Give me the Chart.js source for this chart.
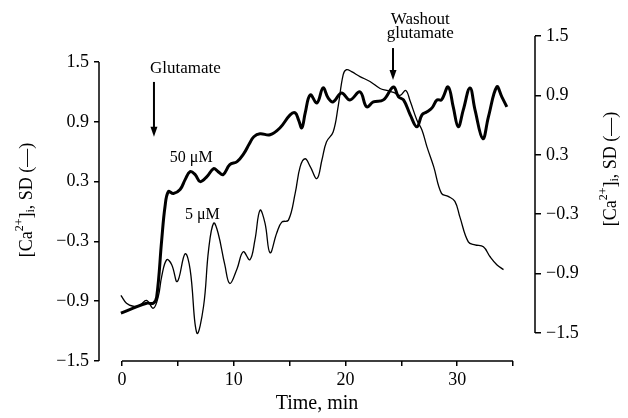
<!DOCTYPE html>
<html>
<head>
<meta charset="utf-8">
<script src="https://cdn.jsdelivr.net/npm/chart.js@4"></script>
<style>
  html, body { margin: 0; padding: 0; background: #fff; }
</style>
</head>
<body>
<canvas id="chart" width="628" height="418"></canvas>
<script>
// 50 uM glutamate (thick line, left axis)
const time50 = [-0.1, 1.0, 2.2, 2.8, 3.1, 3.55, 3.85, 4.15, 4.6, 5.2, 5.65, 6.1, 6.55, 7.0, 7.6, 8.2, 8.6, 9.05, 9.65, 10.3, 10.9, 11.4, 11.8, 12.35, 13.25, 14.15, 15.05, 15.5, 15.8, 16.1, 16.4, 16.85, 17.45, 18.0, 18.45, 18.9, 19.65, 20.4, 21.3, 21.9, 22.5, 23.4, 24.3, 24.75, 25.2, 25.8, 26.4, 26.85, 27.3, 27.75, 28.2, 28.6, 29.2, 29.65, 30.1, 30.55, 31.15, 31.6, 32.3, 32.8, 33.55, 34.0, 34.45];
const ca50 = [-1.02, -0.97, -0.92, -0.92, -0.86, -0.29, 0.05, 0.2, 0.18, 0.22, 0.32, 0.40, 0.37, 0.30, 0.35, 0.43, 0.40, 0.37, 0.47, 0.50, 0.58, 0.68, 0.75, 0.78, 0.77, 0.84, 0.97, 0.99, 0.92, 0.84, 0.99, 1.17, 1.09, 1.24, 1.14, 1.10, 1.19, 1.12, 1.20, 1.05, 1.10, 1.12, 1.25, 1.15, 1.12, 0.97, 0.85, 0.97, 1.00, 1.04, 1.12, 1.12, 1.25, 1.05, 0.85, 1.02, 1.24, 1.02, 0.73, 0.95, 1.25, 1.15, 1.05];

// 5 uM glutamate (thin line, right axis)
const time5 = [-0.1, 0.4, 1.0, 1.6, 2.2, 2.8, 3.25, 3.55, 4.0, 4.45, 4.95, 5.65, 6.1, 6.7, 7.3, 7.75, 8.2, 8.6, 9.2, 9.65, 10.3, 10.85, 11.45, 11.9, 12.35, 12.8, 13.25, 13.85, 14.3, 14.9, 15.5, 15.95, 16.4, 16.85, 17.45, 17.9, 18.3, 18.9, 19.35, 19.8, 20.1, 20.55, 21.3, 22.2, 23.1, 23.7, 24.3, 24.9, 25.4, 25.8, 26.4, 26.85, 27.3, 27.9, 28.6, 29.2, 29.8, 30.25, 31.0, 31.6, 32.35, 32.95, 33.55, 34.15];
const ca5 = [-1.12, -1.20, -1.23, -1.22, -1.17, -1.25, -1.13, -0.93, -0.76, -0.81, -0.98, -0.70, -0.86, -1.50, -1.23, -0.66, -0.39, -0.49, -0.81, -1.00, -0.85, -0.68, -0.76, -0.56, -0.26, -0.39, -0.69, -0.49, -0.38, -0.36, -0.09, 0.18, 0.26, 0.18, 0.06, 0.25, 0.43, 0.53, 0.79, 1.11, 1.16, 1.14, 1.09, 1.04, 0.97, 0.95, 0.93, 0.90, 0.95, 0.84, 0.65, 0.55, 0.38, 0.18, -0.09, -0.12, -0.17, -0.33, -0.58, -0.61, -0.63, -0.73, -0.81, -0.86];

const xTicks = [0, 5, 10, 15, 20, 25, 30, 35];
const xLabels = [0, 10, 20, 30];
const yTicks = [-1.5, -0.9, -0.3, 0.3, 0.9, 1.5];

const serif = '"Liberation Serif", "DejaVu Serif", serif';

function fmt(v) {
  return (v < 0 ? '\u2212' : '') + Math.abs(v).toFixed(1);
}

function pts(xs, ys) {
  return xs.map((x, i) => ({ x: x, y: ys[i] }));
}

// axis lines only over the labelled range, like the figure
const axisLines = {
  id: 'axisLines',
  afterDraw(chart) {
    const { ctx, scales } = chart;
    const x = scales.x, y = scales.y, y2 = scales.y2;
    ctx.save();
    ctx.strokeStyle = '#000';
    ctx.lineWidth = 1.5;
    ctx.beginPath();
    ctx.moveTo(y.right, y.getPixelForValue(-1.5));
    ctx.lineTo(y.right, y.getPixelForValue(1.5));
    ctx.moveTo(y2.left, y2.getPixelForValue(-1.5));
    ctx.lineTo(y2.left, y2.getPixelForValue(1.5));
    ctx.moveTo(x.getPixelForValue(0), x.top);
    ctx.lineTo(x.getPixelForValue(35), x.top);
    ctx.stroke();
    ctx.restore();
  }
};

// rotated y titles with super/subscript
function drawCaTitle(ctx, cx, cy) {
  const parts = [
    { t: '[Ca', size: 18, dy: 0 },
    { t: '2+', size: 12, dy: -7 },
    { t: ']', size: 18, dy: 0 },
    { t: 'i', size: 12, dy: 4 },
    { t: ', SD (\u2014)', size: 18, dy: 0 }
  ];
  ctx.save();
  ctx.translate(cx, cy);
  ctx.rotate(-Math.PI / 2);
  ctx.fillStyle = '#000';
  ctx.textAlign = 'left';
  ctx.textBaseline = 'middle';
  let total = 0;
  parts.forEach(p => {
    ctx.font = p.size + 'px ' + serif;
    p.w = ctx.measureText(p.t).width;
    total += p.w;
  });
  let pos = -total / 2;
  parts.forEach(p => {
    ctx.font = p.size + 'px ' + serif;
    ctx.fillText(p.t, pos, p.dy + 1);
    pos += p.w;
  });
  ctx.restore();
}

function arrowDown(ctx, px, top, bottom) {
  ctx.beginPath();
  ctx.moveTo(px, top);
  ctx.lineTo(px, bottom - 8);
  ctx.stroke();
  ctx.beginPath();
  ctx.moveTo(px - 3.5, bottom - 10);
  ctx.lineTo(px + 3.5, bottom - 10);
  ctx.lineTo(px, bottom);
  ctx.closePath();
  ctx.fill();
}

const notes = {
  id: 'notes',
  afterDraw(chart) {
    const { ctx, scales } = chart;
    const x = scales.x, y = scales.y;
    ctx.save();
    ctx.fillStyle = '#000';
    ctx.strokeStyle = '#000';
    ctx.lineWidth = 2;
    ctx.font = '17px ' + serif;
    ctx.textBaseline = 'middle';

    ctx.textAlign = 'left';
    ctx.fillText('Glutamate', x.getPixelForValue(2.5), y.getPixelForValue(1.43));
    arrowDown(ctx, x.getPixelForValue(2.86), y.getPixelForValue(1.30), y.getPixelForValue(0.75));

    ctx.textAlign = 'center';
    ctx.fillText('Washout', x.getPixelForValue(26.7), y.getPixelForValue(1.93));
    ctx.fillText('glutamate', x.getPixelForValue(26.7), y.getPixelForValue(1.79));
    arrowDown(ctx, x.getPixelForValue(24.26), y.getPixelForValue(1.64), y.getPixelForValue(1.32));

    ctx.font = '16px ' + serif;
    ctx.fillText('50 \u03bcM', x.getPixelForValue(6.2), y.getPixelForValue(0.54));
    ctx.fillText('5 \u03bcM', x.getPixelForValue(7.2), y.getPixelForValue(-0.03));

    drawCaTitle(ctx, 26, 200);
    drawCaTitle(ctx, 610, 169);
    ctx.restore();
  }
};

new Chart(document.getElementById('chart'), {
  type: 'line',
  data: {
    datasets: [
      {
        label: '50 \u03bcM',
        data: pts(time50, ca50),
        yAxisID: 'y',
        borderColor: '#000',
        borderWidth: 3,
        pointRadius: 0,
        tension: 0.4,
        fill: false
      },
      {
        label: '5 \u03bcM',
        data: pts(time5, ca5),
        yAxisID: 'y2',
        borderColor: '#000',
        borderWidth: 1.3,
        pointRadius: 0,
        tension: 0.4,
        fill: false
      }
    ]
  },
  options: {
    responsive: false,
    animation: false,
    devicePixelRatio: 1,
    layout: { padding: { top: 36, left: 0, right: 0, bottom: 0 } },
    plugins: {
      legend: { display: false },
      tooltip: { enabled: false }
    },
    scales: {
      x: {
        type: 'linear',
        min: -2.06,
        max: 36.97,
        afterFit: s => { s.height = 57; },
        afterBuildTicks: s => { s.ticks = xTicks.map(v => ({ value: v })); },
        border: { display: false },
        grid: { drawOnChartArea: false, drawTicks: true, tickLength: 5, color: '#000', lineWidth: 1.5 },
        ticks: {
          autoSkip: false,
          maxRotation: 0,
          color: '#000',
          padding: 3,
          font: { family: serif, size: 18 },
          callback: v => xLabels.includes(v) ? String(v) : ''
        },
        title: {
          display: true,
          text: 'Time, min',
          color: '#000',
          font: { family: serif, size: 20 },
          padding: { top: 0, bottom: 2 }
        }
      },
      y: {
        position: 'left',
        min: -1.5,
        max: 1.761,
        afterFit: s => { s.width = 99; },
        afterBuildTicks: s => { s.ticks = yTicks.map(v => ({ value: v })); },
        border: { display: false },
        grid: { drawOnChartArea: false, drawTicks: true, tickLength: 5, color: '#000', lineWidth: 1.5 },
        ticks: {
          color: '#000',
          padding: 5,
          font: { family: serif, size: 18 },
          callback: v => fmt(v)
        }
      },
      y2: {
        position: 'right',
        min: -1.783,
        max: 1.5,
        afterFit: s => { s.width = 93; },
        afterBuildTicks: s => { s.ticks = yTicks.map(v => ({ value: v })); },
        border: { display: false },
        grid: { drawOnChartArea: false, drawTicks: true, tickLength: 6, color: '#000', lineWidth: 1.5 },
        ticks: {
          color: '#000',
          padding: 5,
          font: { family: serif, size: 18 },
          callback: v => fmt(v)
        }
      }
    }
  },
  plugins: [axisLines, notes]
});
</script>
</body>
</html>
